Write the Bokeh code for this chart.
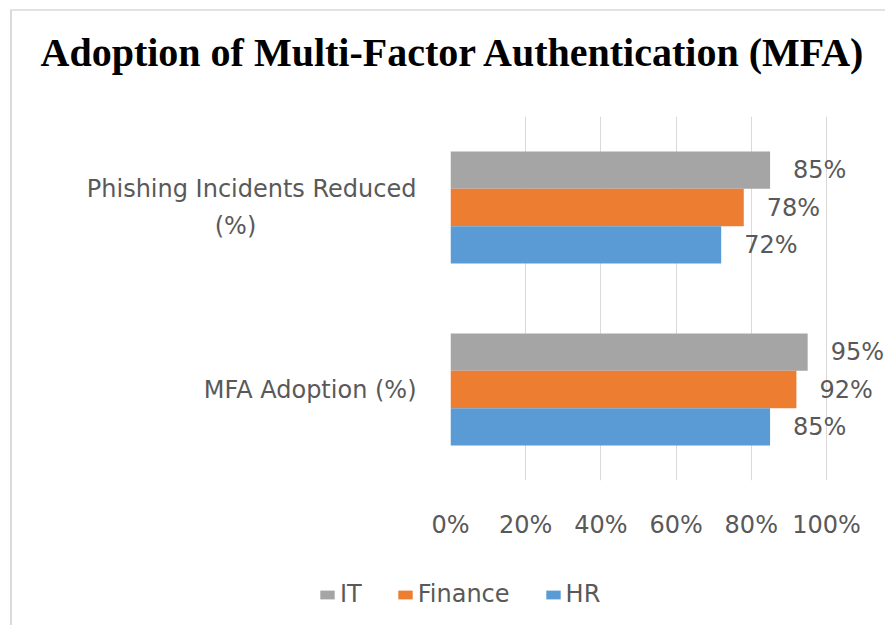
from bokeh.plotting import figure
from bokeh.layouts import column
from bokeh.models import FactorRange, Range1d, ColumnDataSource, LabelSet, FixedTicker
from bokeh.transform import dodge
from bokeh.embed import file_html
from bokeh.resources import INLINE
from bokeh.core.properties import value

# ---- data ----
chart_title = "Adoption of Multi-Factor Authentication (MFA)"
categories = ["MFA Adoption (%)", "Phishing Incidents Reduced (%)"]  # bottom -> top
series_names = ["IT", "Finance", "HR"]
it_values = [95, 85]
finance_values = [92, 78]
hr_values = [85, 72]
x_ticks = [0, 20, 40, 60, 80, 100]
x_tick_labels = ["0%", "20%", "40%", "60%", "80%", "100%"]

series_values = [it_values, finance_values, hr_values]
colors = ["#A5A5A5", "#ED7D31", "#5B9BD5"]
offsets = [0.205, 0.0, -0.205]
bar_h = 0.205

TEXT = "#595959"
FONT = "DejaVu Sans"
NBSP = "\u00a0"
W = 873


def wrap_label(name):
    # Excel-style wrapping: long category name broken before "(%)",
    # second line visually centred under the first one.
    if len(name) > 20:
        first, second = name.rsplit(" ", 1)
        return first + "\n" + second + NBSP * 21
    return name


axis_factors = [wrap_label(c) for c in categories]

# ---- title strip ----
tfig = figure(width=W, height=89, x_axis_type=None, y_axis_type=None,
              x_range=Range1d(0, 1), y_range=Range1d(0, 1),
              output_backend="svg", toolbar_location=None,
              min_border_left=0, min_border_right=0, min_border_top=63, min_border_bottom=0)
tfig.frame_align = False
tfig.outline_line_color = None
tfig.title.text = chart_title
tfig.title.text_font = "Liberation Serif"
tfig.title.text_font_style = "bold"
tfig.title.text_font_size = "40px"
tfig.title.text_color = "#000000"
tfig.title.align = "left"
tfig.title.offset = 28
tfig.title.standoff = 0

# ---- main chart ----
p = figure(
    width=W, height=460,
    y_range=FactorRange(factors=axis_factors, range_padding=0),
    x_range=Range1d(0, 115.7),
    output_backend="svg", toolbar_location=None,
    min_border_left=438, min_border_right=0, min_border_top=16, min_border_bottom=80,
)
p.frame_align = False
p.outline_line_color = None

# ---- legend strip ----
legend_fig = figure(width=W, height=65, x_axis_type=None, y_axis_type=None,
                    x_range=Range1d(0, 1), y_range=Range1d(0, 1),
                    output_backend="svg", toolbar_location=None, min_border=0)
legend_fig.frame_align = False
legend_fig.outline_line_color = None

for name, vals, col, off in zip(series_names, series_values, colors, offsets):
    src = ColumnDataSource(dict(
        category=axis_factors,
        value=vals,
        label=[f"{v}%" for v in vals],
    ))
    p.hbar(y=dodge("category", off, range=p.y_range), right="value", left=0,
           height=bar_h, source=src, fill_color=col, line_color=None)
    labels = LabelSet(x="value", y=dodge("category", off, range=p.y_range), text="label",
                      source=src, x_offset=23, text_baseline="middle", text_align="left",
                      text_font=value(FONT), text_font_size="24px", text_color=TEXT)
    p.add_layout(labels)
    legend_fig.hbar(y="value", right="value", height=bar_h, source=src,
                    fill_color=col, line_color=None, legend_label=name, visible=False)

# x axis
ticker = FixedTicker(ticks=x_ticks)
p.xaxis.ticker = ticker
p.xaxis.major_label_overrides = {t: l for t, l in zip(x_ticks, x_tick_labels)}
p.xaxis.axis_line_color = None
p.xaxis.major_tick_line_color = None
p.xaxis.minor_tick_line_color = None
p.xaxis.major_label_standoff = 24
p.xaxis.major_label_text_font = FONT
p.xaxis.major_label_text_font_size = "24px"
p.xaxis.major_label_text_color = TEXT
p.xgrid.ticker = ticker
p.xgrid.grid_line_color = "#D9D9D9"
p.xgrid.grid_line_width = 1

# y axis
p.yaxis.axis_line_color = None
p.yaxis.major_tick_line_color = None
p.yaxis.minor_tick_line_color = None
p.yaxis.major_label_standoff = 28
p.yaxis.major_label_text_font = FONT
p.yaxis.major_label_text_font_size = "24px"
p.yaxis.major_label_text_color = TEXT
p.yaxis.major_label_text_line_height = 1.3
p.ygrid.visible = False

# legend
lg = legend_fig.legend[0]
lg.orientation = "horizontal"
lg.location = (306, 17)
lg.padding = 0
lg.margin = 0
lg.border_line_color = None
lg.background_fill_alpha = 0
lg.label_text_font = FONT
lg.label_text_font_size = "24px"
lg.label_text_color = TEXT
lg.glyph_width = 18
lg.glyph_height = 11
lg.label_standoff = 4
lg.spacing = 34

layout = column(tfig, p, legend_fig, spacing=0)
layout.styles = {
    "margin-left": "10px",
    "margin-top": "9px",
    "border-left": "2px solid #DADADA",
    "border-top": "2px solid #E2E2E2",
}
open("out.html", "w").write(file_html(layout, INLINE))
